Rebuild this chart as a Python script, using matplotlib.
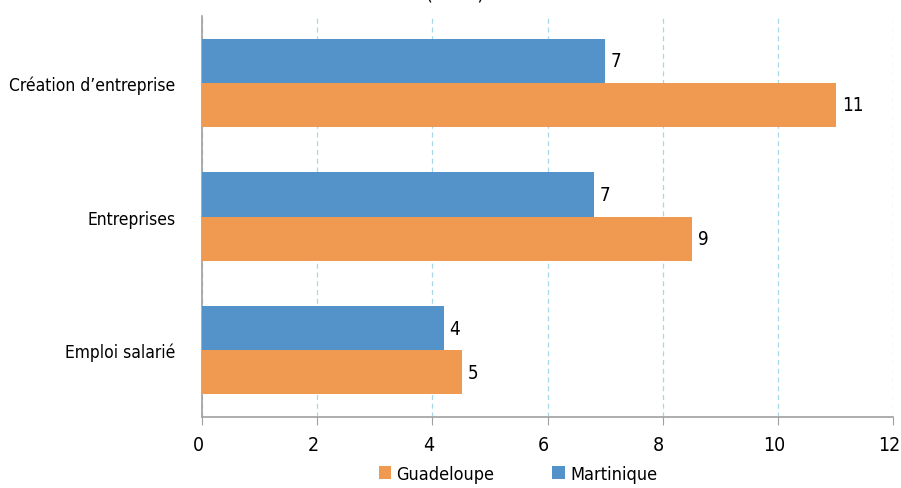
import matplotlib.pyplot as plt
import matplotlib.transforms as mtransforms
import numpy as np

categories = ["Emploi salarié", "Entreprises", "Création d’entreprise"]
guadeloupe = [4.52, 8.51, 11.01]
martinique = [4.20, 6.81, 7.00]
guadeloupe_labels = ["5", "9", "11"]
martinique_labels = ["4", "7", "7"]
xticks = [0, 2, 4, 6, 8, 10, 12]

blue = "#5393C9"
orange = "#F09A51"

plt.rcParams['font.family'] = ['DejaVu Sans']
plt.rcParams['font.stretch'] = 'condensed'

fig = plt.figure(figsize=(9.01, 4.89), dpi=100)
ax = fig.add_axes([0.2242, 0.1452, 0.767, 0.8200])

y = np.arange(len(categories))
h = 0.33
b1 = ax.barh(y + h / 2, martinique, height=h, color=blue, label="Martinique", zorder=3)
b2 = ax.barh(y - h / 2, guadeloupe, height=h, color=orange, label="Guadeloupe", zorder=3)

for bar, lab in zip(b1, martinique_labels):
    ax.text(bar.get_width() + 0.1, bar.get_y() + bar.get_height() / 2, lab,
            va="center", ha="left", fontsize=13.5)
for bar, lab in zip(b2, guadeloupe_labels):
    ax.text(bar.get_width() + 0.1, bar.get_y() + bar.get_height() / 2, lab,
            va="center", ha="left", fontsize=13.5)

ax.set_xlim(0, 12)
ax.set_ylim(-0.5, 2.5)
ax.set_xticks(xticks)
ax.set_xticklabels([str(t) for t in xticks], fontsize=14)
ax.set_yticks(y)
ax.set_yticklabels(categories, fontsize=12.5)
ax.tick_params(axis="y", length=0, pad=19)
ax.tick_params(axis="x", length=6, color="#A0A0A0", pad=7)

# labels sit a little left of their ticks, as in the original
shift = mtransforms.ScaledTranslation(-4 / 100, 0, fig.dpi_scale_trans)
for lbl in ax.get_xticklabels():
    lbl.set_transform(lbl.get_transform() + shift)

ax.grid(axis="x", color="#A8D8E8", linestyle=(0, (4, 3)), linewidth=0.9, zorder=0)
for s in ["top", "right"]:
    ax.spines[s].set_visible(False)
for s in ["left", "bottom"]:
    ax.spines[s].set_color("#A0A0A0")
    ax.spines[s].set_linewidth(1.2)

fig.legend(handles=[b2, b1], labels=["Guadeloupe", "Martinique"], loc="center",
           bbox_to_anchor=(0.575, 0.029), ncol=2, frameon=False,
           fontsize=13, handlelength=0.7, handleheight=0.7, handletextpad=0.3,
           columnspacing=3.2)

fig.text(0.505, 1.0, "(en %)", ha="center", va="baseline", fontsize=14)

fig.savefig("out.png", dpi=100)
